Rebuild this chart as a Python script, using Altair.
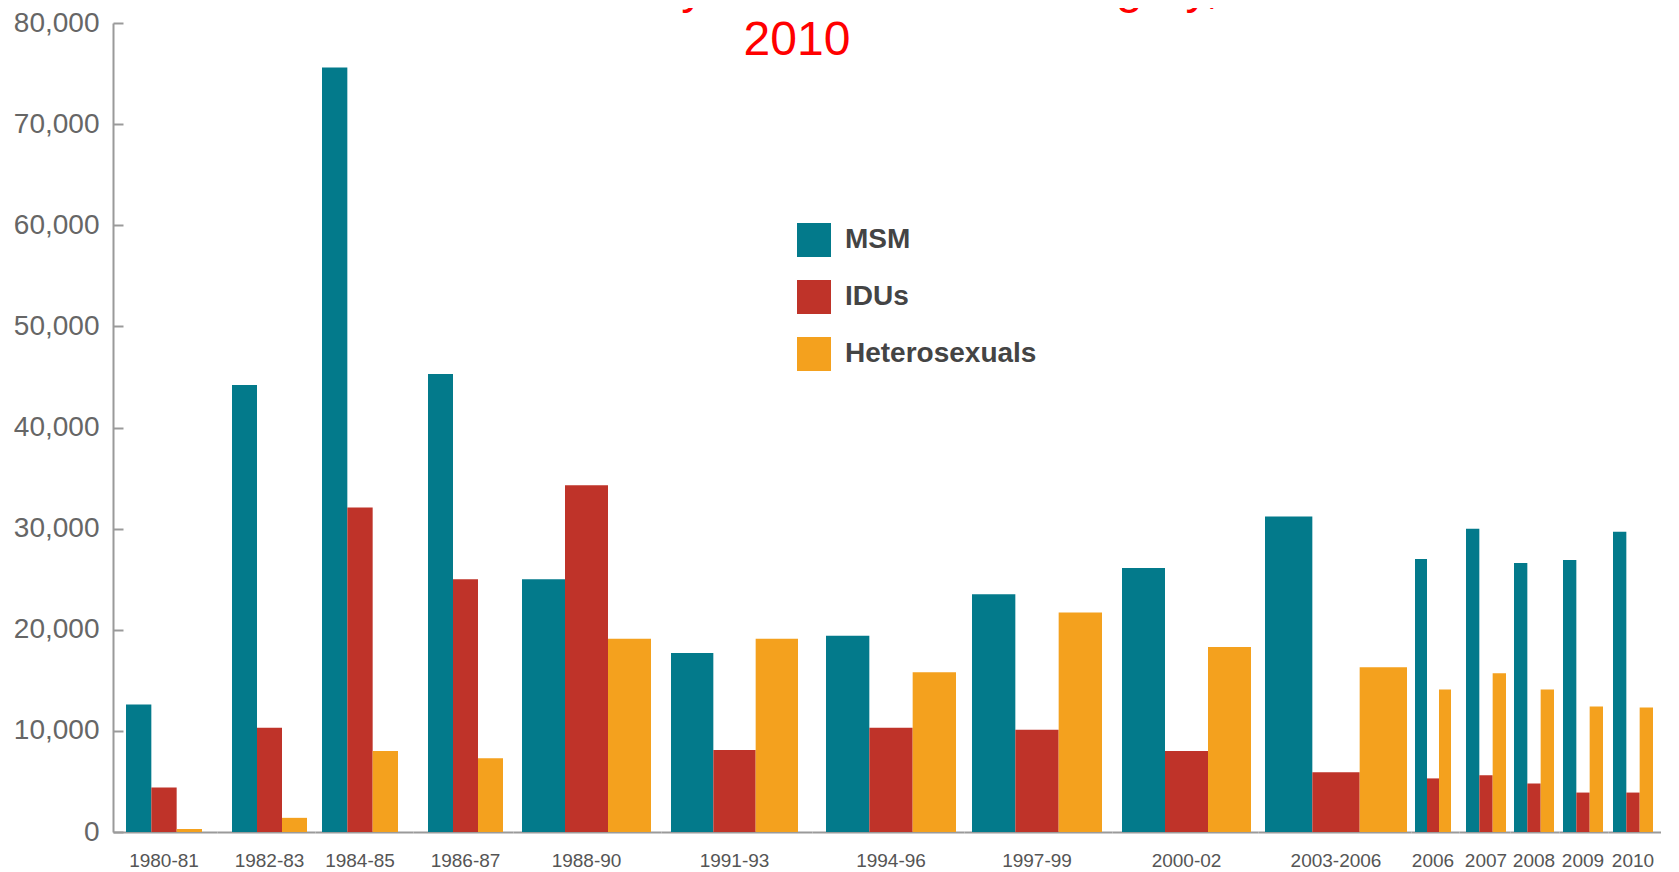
import altair as alt
import pandas as pd

# ---------------- data ----------------
groups = ["1980-81", "1982-83", "1984-85", "1986-87", "1988-90", "1991-93", "1994-96",
          "1997-99", "2000-02", "2003-2006", "2006", "2007", "2008", "2009", "2010"]
msm = [12600, 44200, 75600, 45300, 25000, 17700, 19400, 23500, 26100, 31200,
       27000, 30000, 26600, 26900, 29700]
idus = [4400, 10300, 32100, 25000, 34300, 8100, 10300, 10100, 8000, 5900,
        5300, 5600, 4800, 3900, 3900]
hetero = [300, 1400, 8000, 7300, 19100, 19100, 15800, 21700, 18300, 16300,
          14100, 15700, 14100, 12400, 12300]
series = ["MSM", "IDUs", "Heterosexuals"]
colors = ["#037A8B", "#BF3329", "#F4A11E"]
title_lines = ["New HIV Infections by Transmission Category, 1980\u2013", "2010"]
y_ticks = [0, 10000, 20000, 30000, 40000, 50000, 60000, 70000, 80000]

# ---------------- layout (pixels) ----------------
panel_w = [104, 98, 98, 100, 148, 151, 152, 148, 146, 153, 48, 51, 49, 49, 53]
left_m = [13, 15, 7, 15, 9, 10, 14, 8, 10, 7, 4, 7, 4, 4, 5]
right_m = [15, 8, 15, 10, 10, 14, 8, 10, 7, 4, 8, 4, 5, 5, 8]
PLOT_H = 809
TOTAL_W = sum(panel_w)

rows = []
for g, a, b, c in zip(groups, msm, idus, hetero):
    for s, v in zip(series, (a, b, c)):
        rows.append({"period": g, "category": s, "cases": v})
df = pd.DataFrame(rows)

AX_GRAY = "#9a9a9a"
Y_FONT = "Liberation Sans, Arial, Helvetica, sans-serif"
X_FONT = "Liberation Sans Narrow, Arial Narrow, Liberation Sans, Arial, sans-serif"

yscale = alt.Scale(domain=[0, 80000], nice=False, zero=True)
color = alt.Color(
    "category:N",
    scale=alt.Scale(domain=series, range=colors),
    legend=alt.Legend(
        title=None, orient="none", legendX=684, legendY=215, padding=0,
        symbolType="square", symbolSize=1156, symbolStrokeWidth=0,
        labelFontSize=28, labelFontWeight="bold", labelColor="#444444",
        labelFont=Y_FONT, labelOffset=14, rowPadding=23, labelLimit=0,
    ),
)

panels = []
for i, g in enumerate(groups):
    W, l, r = panel_w[i], left_m[i], right_m[i]
    band = W - l - r
    po = (W / band - 1) / 2
    al = l / (l + r)
    d = df[df["period"] == g]
    xenc = alt.X(
        "period:N", title=None,
        scale=alt.Scale(paddingInner=0, paddingOuter=po, align=al),
        axis=alt.Axis(labelAngle=0, ticks=False, domainColor=AX_GRAY, domainWidth=2,
                      labelFont=X_FONT, labelFontSize=19, labelColor="#555555",
                      labelPadding=19, labelLimit=0),
    )
    if i == 0:
        yaxis = alt.Axis(values=y_ticks, format=",d", ticks=False, grid=False,
                         domainColor=AX_GRAY, domainWidth=2, labelFont=Y_FONT,
                         labelFontSize=28, labelColor="#666666", labelPadding=14)
    else:
        yaxis = None
    bars = alt.Chart(d).mark_bar().encode(
        x=xenc,
        xOffset=alt.XOffset("category:N",
                            scale=alt.Scale(domain=series, paddingInner=0, paddingOuter=0)),
        y=alt.Y("cases:Q", scale=yscale, axis=yaxis, title=None),
        color=color,
    )
    if i == 0:
        ticks_layer = alt.Chart(pd.DataFrame({"cases": y_ticks})).mark_rule(opacity=0).encode(
            y=alt.Y("cases:Q", scale=yscale, title=None,
                    axis=alt.Axis(orient="right", offset=-W, values=y_ticks, labels=False,
                                  domain=False, grid=False, ticks=True, tickSize=10,
                                  tickColor=AX_GRAY, tickWidth=2))
        )
        panel = alt.layer(bars, ticks_layer).resolve_axis(y="independent")
    else:
        panel = bars
    panels.append(panel.properties(width=W, height=PLOT_H))

hcat = alt.hconcat(*panels, spacing=0, bounds="flush").resolve_scale(
    x="independent", xOffset="independent", y="shared", color="shared"
)

line1 = alt.Chart(pd.DataFrame({"t": [title_lines[0]]})).mark_text(
    clip=True, align="left", baseline="alphabetic", fontSize=48,
    color="#FF0000", font=Y_FONT
).encode(text="t:N", x=alt.value(120), y=alt.value(-5))
line2 = alt.Chart(pd.DataFrame({"t": [title_lines[1]]})).mark_text(
    align="center", baseline="alphabetic", fontSize=48,
    color="#FF0000", font=Y_FONT
).encode(text="t:N", x=alt.value(684), y=alt.value(47))
top = alt.layer(line1, line2).properties(width=TOTAL_W, height=5)

chart = alt.vconcat(top, hcat, spacing=10, bounds="flush").resolve_scale(
    color="shared"
).properties(
    padding={"left": 5, "top": 0, "right": 0, "bottom": 0}
).configure_view(stroke=None)

chart.save("out.html", embed_options={"renderer": "svg", "actions": False})
